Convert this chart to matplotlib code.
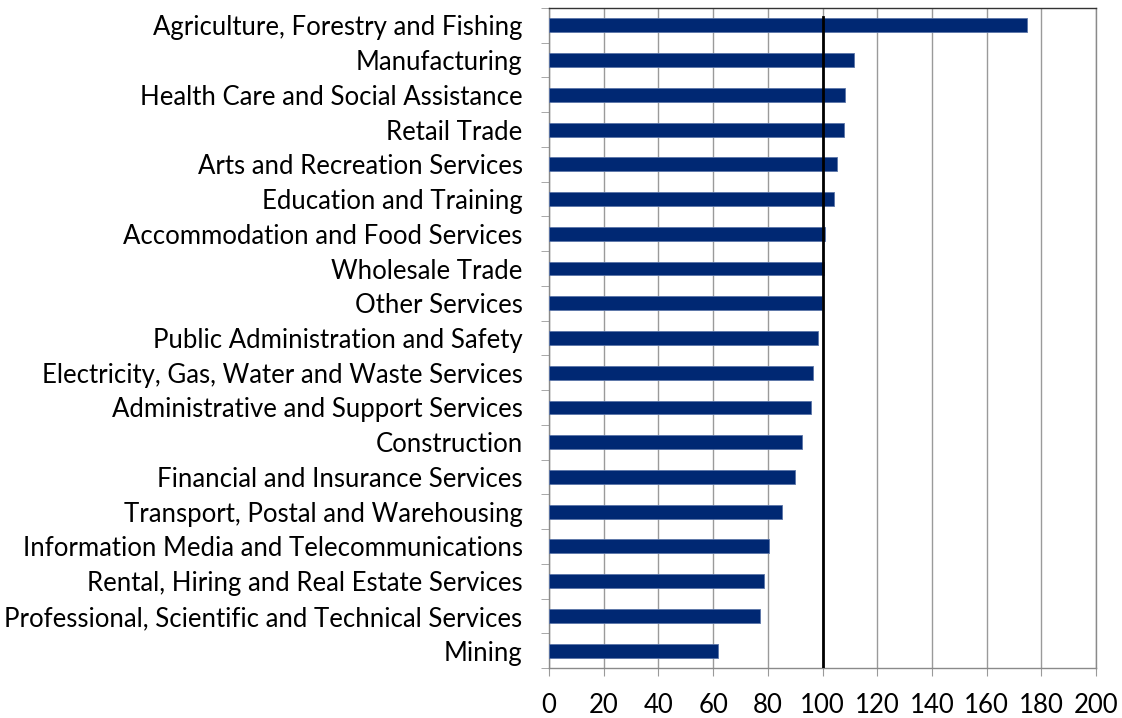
import matplotlib.pyplot as plt
import numpy as np

# Categories (top to bottom) and index values
industries = [
    "Agriculture, Forestry and Fishing",
    "Manufacturing",
    "Health Care and Social Assistance",
    "Retail Trade",
    "Arts and Recreation Services",
    "Education and Training",
    "Accommodation and Food Services",
    "Wholesale Trade",
    "Other Services",
    "Public Administration and Safety",
    "Electricity, Gas, Water and Waste Services",
    "Administrative and Support Services",
    "Construction",
    "Financial and Insurance Services",
    "Transport, Postal and Warehousing",
    "Information Media and Telecommunications",
    "Rental, Hiring and Real Estate Services",
    "Professional, Scientific and Technical Services",
    "Mining",
]
values = [174.6, 111.6, 108.2, 108.0, 105.3, 104.1, 100.9, 100.5, 99.7, 98.2,
          96.4, 95.7, 92.5, 90.1, 85.2, 80.5, 78.6, 77.1, 61.8]
xticks = list(range(0, 201, 20))
reference = 100

plt.rcParams['font.family'] = ['Lato', 'DejaVu Sans']

fig = plt.figure(figsize=(11.22, 7.18), dpi=100)
ax = fig.add_axes([549 / 1122, 1 - 668 / 718, (1096 - 549) / 1122, (668 - 8) / 718])

n = len(industries)
pos = np.arange(n)
ax.barh(pos, values, height=0.4, color="#002873", edgecolor="#5a74a8", linewidth=0.6, zorder=3)

ax.set_ylim(n - 0.5, -0.5)
ax.set_xlim(0, 200)

# ligne de référence à 100
ax.plot([reference, reference], [-0.25, n - 0.5], color="black", linewidth=2, zorder=4)

ax.set_xticks(xticks)
ax.set_xticklabels([str(t) for t in xticks], fontsize=18.5)
ax.grid(axis="x", color="#9a9a9a", linewidth=1, zorder=0)

ax.set_yticks(pos)
ax.set_yticklabels(industries, fontsize=18.5)
ax.tick_params(axis="y", length=0, pad=19)
ax.set_yticks(np.arange(-0.5, n + 0.5, 1), minor=True)
ax.tick_params(axis="y", which="minor", length=6, color="#9a9a9a", direction="out")
ax.tick_params(axis="x", length=6, color="#9a9a9a", direction="out", pad=12)

for s in ax.spines.values():
    s.set_color("#8a8a8a")
    s.set_linewidth(1)
ax.spines["top"].set_color("#333333")

fig.savefig("out.png", dpi=100)
